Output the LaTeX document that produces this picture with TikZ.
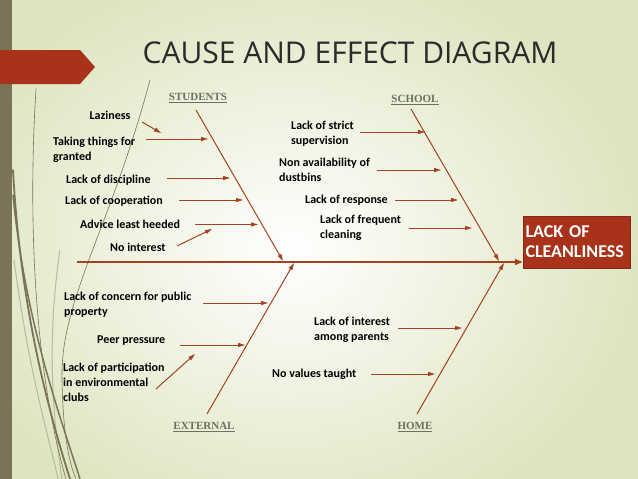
\documentclass[tikz,border=0pt]{standalone}
\usepackage{fontspec}
\setmainfont{Carlito}
\newfontfamily\titlefont{Open Sans}
\newfontfamily\labfont{Carlito}
\newfontfamily\catfont{Liberation Serif}
\usetikzlibrary{arrows.meta}
\definecolor{bggreen}{HTML}{DDE5C0}
\definecolor{stripc}{HTML}{7A7357}
\definecolor{grasslight}{HTML}{B9B99C}
\definecolor{bannerc}{HTML}{A8321A}
\definecolor{arrowc}{HTML}{A3421E}
\definecolor{catc}{HTML}{6F6E60}
\definecolor{titlec}{HTML}{2B2B2B}
\tikzset{
  lbl/.style={inner sep=0pt, anchor=west, align=left, font=\labfont\bfseries\fontsize{12}{15}\selectfont, text=black},
  cat/.style={inner sep=0pt, font=\catfont\bfseries\fontsize{11}{13}\selectfont, text=catc},
  cause/.style={draw=arrowc, line width=1pt, -{Triangle[length=7pt,width=4pt]}},
  bone/.style={draw=arrowc, line width=1pt, -{Triangle[length=7pt,width=4pt]}},
  spine/.style={draw=arrowc, line width=2pt, -{Triangle[length=8pt,width=6pt]}},
  effect/.style={fill=bannerc, draw=bannerc!80!black, line width=0.5pt, text=white, minimum width=107pt, minimum height=52pt, text width=102pt, inner xsep=2.5pt, inner ysep=0pt, align=left, font=\labfont\bfseries\fontsize{18}{20}\selectfont},
  grass/.style={draw=stripc, line cap=round}
}
\begin{document}
\begin{tikzpicture}[x=1pt,y=-1pt]
\useasboundingbox (0,0) rectangle (638,479);
% background
\fill[bggreen] (0,0) rectangle (638,479);
\shade[inner color=white, outer color=bggreen] (-60,-40) rectangle (640,540);
\fill[stripc] (0,0) rectangle (12,479);
% grass
\draw[grasslight, line width=1pt] (14,260) .. controls (30,380) and (50,440) .. (58,479);
\draw[grasslight, line width=1pt] (60,250) .. controls (45,350) and (55,430) .. (62,479);
\draw[grass, line width=0.6pt] (36,89) .. controls (26,250) and (40,390) .. (66,479);
\draw[grass, line width=1.8pt] (13,170) .. controls (20,300) and (45,400) .. (70,479);
\draw[grass, line width=1.5pt] (13,195) .. controls (25,320) and (58,410) .. (80,479);
\draw[grass, line width=0.6pt] (150,80) .. controls (110,230) and (60,300) .. (62,380) .. controls (63,430) and (68,460) .. (76,479);
% banner
\fill[bannerc] (0,50) -- (80,50) -- (95,67) -- (80,84) -- (0,84) -- cycle;
% title
\node[inner sep=0pt, font=\titlefont\fontsize{30}{34}\selectfont, text=titlec] (title) at (350,53) {CAUSE AND EFFECT DIAGRAM};
% effect
\node[effect] (eff) at (576.5,242) {LACK OF\\CLEANLINESS};
% spine
\coordinate (spL) at (77,262);
\draw[spine] (spL) -- (spL -| eff.west);
% category labels
\node[cat] (stu) at (198,98) {\underline{STUDENTS}};
\node[cat] (sch) at (415,100) {\underline{SCHOOL}};
\node[cat] (ext) at (204,427) {\underline{EXTERNAL}};
\node[cat] (hom) at (415,427) {\underline{HOME}};
% bones
\coordinate (stuA) at (196,110); \coordinate (stuB) at (283,261);
\coordinate (schA) at (411,109); \coordinate (schB) at (499,261);
\coordinate (extA) at (207,414); \coordinate (extB) at (294,263);
\coordinate (homA) at (417,414); \coordinate (homB) at (504,263);
\draw[bone] (stuA) -- (stuB);
\draw[bone] (schA) -- (schB);
\draw[bone] (extA) -- (extB);
\draw[bone] (homA) -- (homB);
% students causes
\node[lbl, anchor=center] (c1) at (110,115) {Laziness};
\node[lbl] (c2) at (53,149.5) {Taking things for\\granted};
\node[lbl] (c3) at (66,180) {Lack of discipline};
\node[lbl] (c4) at (65,201) {Lack of cooperation};
\node[lbl] (c5) at (80,224) {Advice least heeded};
\node[lbl] (c6) at (110,247) {No interest};
\coordinate (a1) at (142,122); \coordinate (b1) at (161,133);
\coordinate (a2) at (146,139); \coordinate (b2) at (208,139);
\coordinate (a3) at (167,178); \coordinate (b3) at (230,178);
\coordinate (a4) at (179,200); \coordinate (b4) at (243,200);
\coordinate (a5) at (195,224.5); \coordinate (b5) at (258,224.5);
\coordinate (a6) at (177,246); \coordinate (b6) at (212,229);
\foreach \i in {1,...,6} {\draw[cause] (a\i) -- (b\i);}
% school causes
\node[lbl] (d1) at (291,134) {Lack of strict\\supervision};
\node[lbl] (d2) at (279,169.5) {Non availability of\\dustbins};
\node[lbl] (d3) at (305,200) {Lack of response};
\node[lbl] (d4) at (320,227.5) {Lack of frequent\\cleaning};
\coordinate (e1) at (360,132); \coordinate (f1) at (425,132);
\coordinate (e2) at (377,170); \coordinate (f2) at (441,170);
\coordinate (e3) at (395,200); \coordinate (f3) at (458,200);
\coordinate (e4) at (409,228); \coordinate (f4) at (472,228);
\foreach \i in {1,...,4} {\draw[cause] (e\i) -- (f\i);}
% external causes
\node[lbl] (g1) at (64,305) {Lack of concern for public\\property};
\node[lbl] (g2) at (97,341) {Peer pressure};
\node[lbl] (g3) at (63,382) {Lack of participation\\in environmental\\clubs};
\coordinate (h1) at (203,303); \coordinate (k1) at (268,303);
\coordinate (h2) at (180,345); \coordinate (k2) at (245,345);
\coordinate (h3) at (156,389); \coordinate (k3) at (195,354);
\foreach \i in {1,...,3} {\draw[cause] (h\i) -- (k\i);}
% home causes
\node[lbl] (m1) at (314,329.5) {Lack of interest\\among parents};
\node[lbl] (m2) at (272,374) {No values taught};
\coordinate (n1) at (398,328); \coordinate (p1) at (462,328);
\coordinate (n2) at (371,374); \coordinate (p2) at (435,374);
\foreach \i in {1,2} {\draw[cause] (n\i) -- (p\i);}
\end{tikzpicture}
\end{document}
